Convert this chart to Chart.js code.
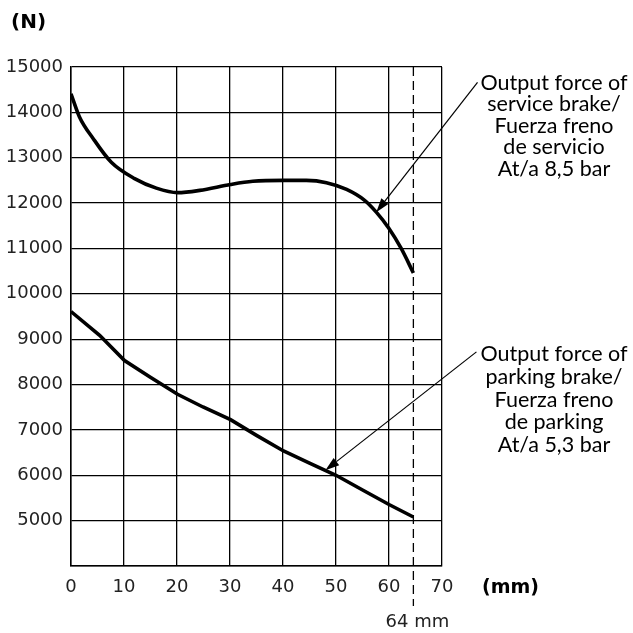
<!DOCTYPE html>
<html><head><meta charset="utf-8">
<script src="https://cdn.jsdelivr.net/npm/chart.js@4/dist/chart.umd.min.js"></script>
<style>html,body{margin:0;padding:0;background:#fff}canvas{display:block}</style>
</head><body>
<canvas id="c" width="633" height="633"></canvas>
<script>
// Service brake curve (mm, N)
const serviceX = [0, 1.6, 4.2, 7.6, 12.0, 16.1, 20.1, 24.3, 30.1, 34.3, 40.1, 44.4, 48.2, 52.0, 55.4, 57.6, 60.0, 62.3, 64.6];
const serviceY = [14410, 13900, 13420, 12900, 12540, 12330, 12230, 12280, 12410, 12480, 12500, 12500, 12450, 12300, 12060, 11800, 11440, 11000, 10460];
// Parking brake curve (mm, N)
const parkingX = [0, 5.4, 10.1, 14.9, 20.1, 24.9, 30.1, 35.0, 40.1, 45.0, 50.0, 55.1, 60.0, 64.6];
const parkingY = [9610, 9085, 8530, 8165, 7785, 7505, 7225, 6880, 6535, 6270, 6000, 5670, 5355, 5080];
const xTicks = [0, 10, 20, 30, 40, 50, 60, 70];
const yTicks = [5000, 6000, 7000, 8000, 9000, 10000, 11000, 12000, 13000, 14000, 15000];
const strokeLimitX = 64.6;
const serviceLabel = ["Output force of", "service brake/", "Fuerza freno", "de servicio", "At/a 8,5 bar"];
const parkingLabel = ["Output force of", "parking brake/", "Fuerza freno", "de parking", "At/a 5,3 bar"];
// arrows: [tailX, tailY, tipX, tipY] in data units
const serviceArrow = [76.7, 14660, 57.6, 11800];
const parkingArrow = [76.5, 8720, 48.0, 6110];

const toPts = (xs, ys) => xs.map((x, i) => ({x, y: ys[i]}));

const annot = {
  id: 'annot',
  afterDraw(chart) {
    const ctx = chart.ctx, xs = chart.scales.x, ys = chart.scales.y;
    const ca = chart.chartArea;
    ctx.save();
    const dx = xs.getPixelForValue(strokeLimitX);
    ctx.strokeStyle = '#000'; ctx.lineWidth = 1.3;
    ctx.setLineDash([9, 5]);
    ctx.beginPath(); ctx.moveTo(dx, ca.top); ctx.lineTo(dx, ca.bottom + 40); ctx.stroke();
    ctx.setLineDash([]);
    function arrow(a) {
      const x1 = xs.getPixelForValue(a[0]), y1 = ys.getPixelForValue(a[1]);
      const x2 = xs.getPixelForValue(a[2]), y2 = ys.getPixelForValue(a[3]);
      const ang = Math.atan2(y2 - y1, x2 - x1);
      const L = 14, W = 4.5;
      const bx = x2 - L * Math.cos(ang), by = y2 - L * Math.sin(ang);
      ctx.lineWidth = 1.2;
      ctx.beginPath(); ctx.moveTo(x1, y1); ctx.lineTo(bx, by); ctx.stroke();
      ctx.beginPath();
      ctx.moveTo(x2, y2);
      ctx.lineTo(bx + W * Math.sin(ang), by - W * Math.cos(ang));
      ctx.lineTo(bx - W * Math.sin(ang), by + W * Math.cos(ang));
      ctx.closePath(); ctx.fillStyle = '#000'; ctx.fill();
    }
    arrow(serviceArrow); arrow(parkingArrow);
    ctx.fillStyle = '#000';
    ctx.font = '21.5px Lato';
    ctx.textAlign = 'center'; ctx.textBaseline = 'middle';
    serviceLabel.forEach((t, i) => ctx.fillText(t, 554, 83 + i * 21.5));
    parkingLabel.forEach((t, i) => ctx.fillText(t, 554, 354 + i * 22.8));
    ctx.font = 'bold 20px "DejaVu Sans"';
    ctx.textAlign = 'left';
    ctx.fillText('(N)', 11, 23);
    ctx.font = 'bold 19px "DejaVu Sans"';
    ctx.fillText('(mm)', 482, 588);
    ctx.font = '18px "DejaVu Sans"';
    ctx.fillStyle = '#222';
    ctx.textAlign = 'center';
    ctx.fillText('64 mm', dx + 4, 622);
    ctx.restore();
  }
};

new Chart(document.getElementById('c'), {
  type: 'scatter',
  data: {
    datasets: [
      {data: toPts(serviceX, serviceY), showLine: true, borderColor: '#000', borderWidth: 3.6, pointRadius: 0, tension: 0.4, cubicInterpolationMode: 'monotone', fill: false},
      {data: toPts(parkingX, parkingY), showLine: true, borderColor: '#000', borderWidth: 3.6, pointRadius: 0, tension: 0, fill: false}
    ]
  },
  options: {
    responsive: false, animation: false,
    layout: {padding: {left: 0, top: 67, right: 191, bottom: 27}},
    plugins: {legend: {display: false}, tooltip: {enabled: false}},
    scales: {
      x: {
        type: 'linear', min: 0, max: 70,
        afterFit(s) { s.height = 40; },
        afterBuildTicks(s) { s.ticks = xTicks.map(v => ({value: v})); },
        grid: {color: '#000', lineWidth: 1.3, drawTicks: false},
        border: {color: '#000', width: 1.5},
        ticks: {color: '#222', font: {family: 'DejaVu Sans', size: 18}, padding: 11, maxRotation: 0}
      },
      y: {
        type: 'linear', min: 4000, max: 15000,
        afterFit(s) { s.width = 71; },
        afterBuildTicks(s) { s.ticks = [4000].concat(yTicks).map(v => ({value: v})); },
        grid: {color: '#000', lineWidth: 1.3, drawTicks: false},
        border: {color: '#000', width: 1.5},
        ticks: {color: '#222', font: {family: 'DejaVu Sans', size: 18}, padding: 8,
          callback: v => yTicks.includes(v) ? String(v) : ''}
      }
    }
  },
  plugins: [annot]
});
</script>
</body></html>
